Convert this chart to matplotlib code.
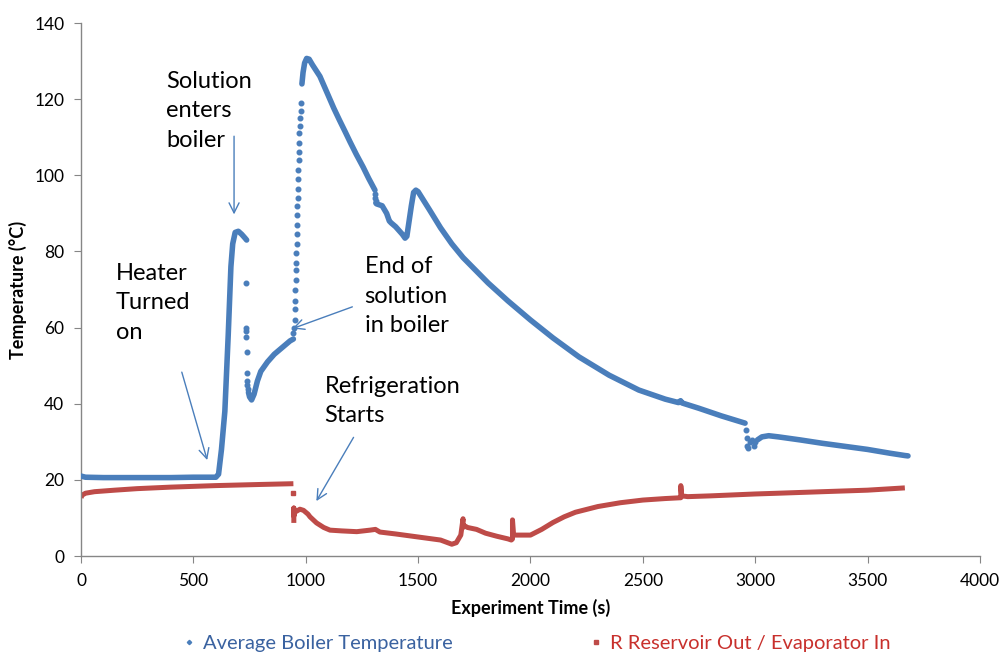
import numpy as np
import matplotlib
matplotlib.use("Agg")
import matplotlib.pyplot as plt
from matplotlib.lines import Line2D

plt.rcParams['font.family'] = ['Lato', 'DejaVu Sans']

# ---- Data ----
# Average boiler temperature: dense trace segments (NaN separates segments)
blue_x = [0, 20, 100, 200, 300, 400, 500, 600, 612, 625, 640, 655, 667, 675, 686, 700, 715, 730, 737, np.nan,
          745, 750, 759, 770, 785, 800, 830, 860, 900, 930, 945, np.nan,
          983, 988, 995, 1004, 1015, 1030, 1063, 1100, 1125, 1150, 1175, 1197, 1225, 1255, 1280, 1308, np.nan,
          1312, 1315, 1340, 1360, 1372, 1380, 1400, 1430, 1442, 1450, 1460, 1470, 1480, 1490, 1500, 1550, 1600,
          1650, 1700, 1812, 1900, 2000, 2100, 2216, 2350, 2482, 2600, 2659, 2668, 2675, 2750, 2850, 2955, np.nan,
          3010, 3030, 3060, 3103, 3200, 3300, 3400, 3500, 3600, 3666, 3680]
blue_y = [21.0, 20.7, 20.6, 20.6, 20.6, 20.6, 20.7, 20.7, 21.5, 28, 38, 58, 76, 82, 85, 85.3, 84.5, 83.5, 83, np.nan,
          43, 41.8, 41, 42.5, 46, 48.5, 51, 53, 55, 56.5, 57, np.nan,
          124, 127, 129.5, 130.7, 130.5, 129, 126, 121, 117.6, 114.5, 111.5, 108.8, 105.5, 102.2, 99.2, 96.1, np.nan,
          92.7, 92.5, 92, 90, 88, 87.5, 86.5, 84.5, 83.5, 84, 88, 92, 95.5, 96.1, 95.7, 91, 86.2,
          82, 78.4, 71.7, 67, 62, 57.3, 52.3, 47.5, 43.6, 41.2, 40.3, 40.8, 40.2, 38.8, 36.8, 34.9, np.nan,
          30.5, 31.3, 31.6, 31.3, 30.5, 29.6, 28.8, 28.0, 27.0, 26.4, 26.3]

# Sparse isolated boiler readings (fast transients)
blue_dots_x = [734, 736, 736, 736, 737, 738, 739, 740, 741,
               945, 948, 951, 952, 953, 954, 955, 956, 957, 958, 959, 960, 961, 962, 963, 964, 965,
               966, 967, 968, 969, 970, 972, 974, 976, 978, 980,
               1309, 1310, 1311,
               2960, 2962, 2965, 2968, 2975, 2985, 2995, 3000]
blue_dots_y = [71.8, 60, 59, 57.5, 53.7, 48, 46, 45, 44,
               58.5, 60, 62, 65, 67, 70, 72.5, 75, 77, 79.5, 82, 84.5, 87, 89.5, 92, 94, 96.5,
               99, 101.5, 104, 106, 108.5, 111, 113, 115, 117, 119,
               95, 94, 93.3,
               33, 31, 29, 28.5, 30, 30.5, 29, 30]

# R reservoir out / evaporator in
red_x = [0, 5, 20, 60, 150, 250, 400, 600, 800, 945, np.nan,
         947, 947, 947, 950, 960, 974, 990, 1010, 1019, 1048, 1080, 1108, 1160, 1227, 1286, 1310, 1330,
         1400, 1500, 1600, 1650, 1670, 1690, 1700, 1700, 1705, 1720, 1760, 1800, 1850, 1900, 1915, 1920, 1920,
         1925, 1950, 2000, 2050, 2100, 2150, 2200, 2300, 2400, 2500, 2600, 2665, 2669, 2669, 2673,
         2700, 2800, 3000, 3103, 3300, 3500, 3666]
red_y = [15.3, 16.0, 16.5, 16.9, 17.3, 17.7, 18.1, 18.5, 18.8, 19.0, np.nan,
         8.7, 12.6, 10.5, 11.5, 11.8, 12.3, 12.0, 11.0, 10.3, 8.7, 7.5, 6.8, 6.6, 6.4, 6.8, 7.0, 6.3,
         5.8, 5.0, 4.2, 3.1, 3.5, 5.5, 9.8, 7.5, 8.0, 7.5, 7.0, 6.0, 5.2, 4.5, 4.2, 4.5, 9.5,
         5.5, 5.5, 5.5, 7.0, 8.8, 10.3, 11.5, 13.0, 14.0, 14.7, 15.1, 15.3, 15.3, 18.5, 15.8,
         15.6, 15.8, 16.3, 16.5, 16.9, 17.3, 17.9]
red_dots_x = [943]
red_dots_y = [16.5]

x_ticks = [0, 500, 1000, 1500, 2000, 2500, 3000, 3500, 4000]
y_ticks = [0, 20, 40, 60, 80, 100, 120, 140]

series_labels = ['Average Boiler Temperature', 'R Reservoir Out / Evaporator In']

BLUE = '#4A7EBB'
RED = '#BE4B48'

fig = plt.figure(figsize=(10.04, 6.54), dpi=100)
ax = fig.add_axes([0.0807, 0.1498, 0.8953, 0.815])

ax.plot(blue_x, blue_y, color=BLUE, lw=4.0, solid_capstyle='round', solid_joinstyle='round', zorder=3)
ax.plot(blue_dots_x, blue_dots_y, ls='none', marker='o', ms=3.3, color=BLUE, zorder=3)
ax.plot(red_x, red_y, color=RED, lw=3.6, solid_capstyle='butt', solid_joinstyle='round', zorder=2)
ax.plot(red_dots_x, red_dots_y, ls='none', marker='s', ms=3.3, color=RED, zorder=2)

ax.set_xlim(0, 4000)
ax.set_ylim(0, 140)
ax.set_xticks(x_ticks)
ax.set_yticks(y_ticks)
ax.tick_params(axis='both', direction='out', length=5, color='#868686', labelsize=12.5, pad=7)
for side in ['top', 'right']:
    ax.spines[side].set_visible(False)
for side in ['left', 'bottom']:
    ax.spines[side].set_color('#868686')
    ax.spines[side].set_linewidth(1.0)

ax.set_xlabel('Experiment Time (s)', fontsize=13, fontweight='bold', labelpad=7)
ax.set_ylabel('Temperature (°C)', fontsize=13, fontweight='bold', labelpad=5)

ann_kw = dict(fontsize=17, color='black', ha='left', va='top', linespacing=1.5)
arrow_kw = dict(arrowstyle='->', color=BLUE, lw=1.0, mutation_scale=18)

ax.annotate('', xy=(681, 89), xytext=(681, 111), arrowprops=arrow_kw)
ax.text(378, 127.5, 'Solution\nenters\nboiler', **ann_kw)

ax.annotate('', xy=(565, 24.5), xytext=(445, 49), arrowprops=arrow_kw)
ax.text(154, 77, 'Heater\nTurned\non', **ann_kw)

ax.annotate('', xy=(930, 59.5), xytext=(1219, 65.7), arrowprops=arrow_kw)
ax.text(1262, 78.8, 'End of\nsolution\nin boiler', **ann_kw)

ax.annotate('', xy=(1041, 13.8), xytext=(1219, 31.8), arrowprops=arrow_kw)
ax.text(1083, 47.3, 'Refrigeration\nStarts', **ann_kw)

h_blue = Line2D([], [], ls='none', marker='D', ms=2.2, color=BLUE)
h_red = Line2D([], [], ls='none', marker='s', ms=2.6, color=RED)
leg_y = 1 - 643 / 654
leg1 = fig.legend([h_blue], [series_labels[0]], loc='center left',
                  bbox_to_anchor=(184 / 1004, leg_y), frameon=False, fontsize=14.5,
                  handlelength=0.5, handletextpad=0.45, borderpad=0, borderaxespad=0)
leg1.get_texts()[0].set_color('#3A62A0')
leg2 = fig.legend([h_red], [series_labels[1]], loc='center left',
                  bbox_to_anchor=(591 / 1004, leg_y), frameon=False, fontsize=14.5,
                  handlelength=0.5, handletextpad=0.45, borderpad=0, borderaxespad=0)
leg2.get_texts()[0].set_color('#C8302C')

fig.savefig('out.png', dpi=100)
